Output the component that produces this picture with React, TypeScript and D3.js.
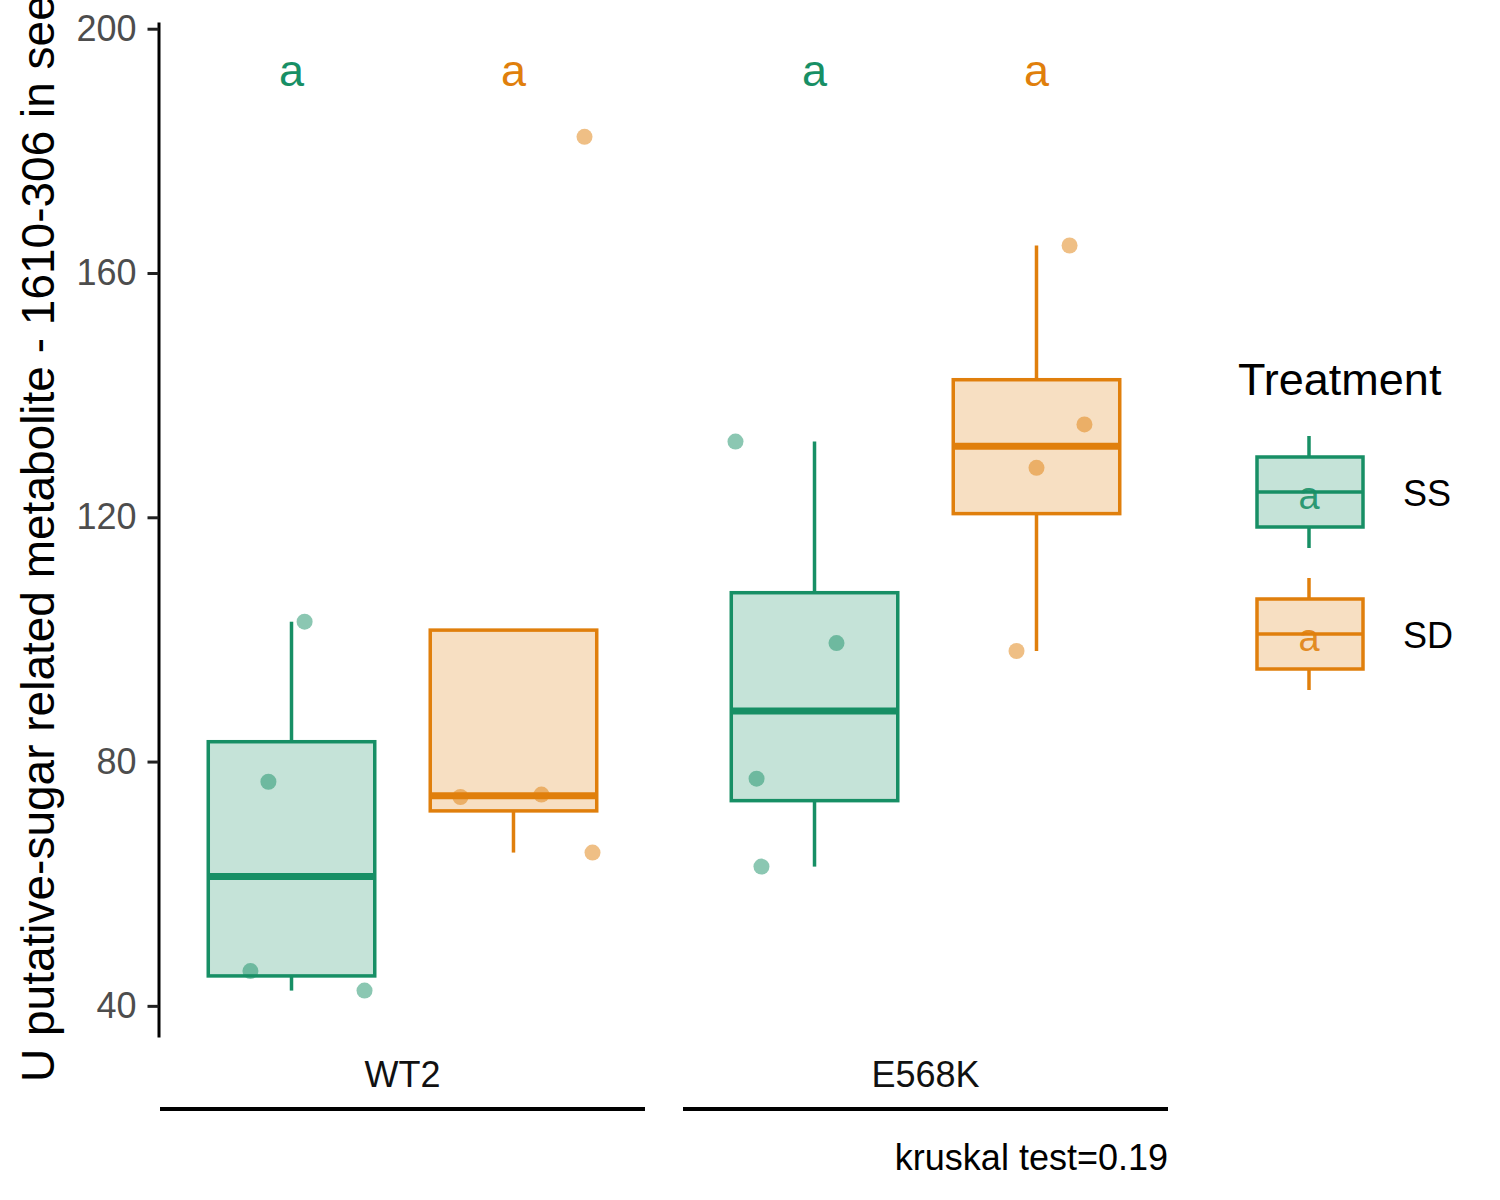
import * as d3 from "d3";
import { useEffect, useRef } from "react";

// values
const genotypes = ["WT2", "E568K"];
const treatments = ["SS", "SD"];
const colors = ["#178F65", "#E07F0C"];

const wt2SS = [42.5, 45.7, 76.7, 102.9];
const wt2SD = [65.1, 74.2, 74.6, 182.3];
const e568kSS = [62.8, 77.2, 99.4, 132.4];
const e568kSD = [98.1, 128.1, 135.2, 164.5];

// horizontal jitter, in units of the dodge step
const wt2SSJitter = [0.329, -0.185, -0.104, 0.059];
const wt2SDJitter = [0.356, -0.239, 0.126, 0.32];
const e568kSSJitter = [-0.239, -0.261, 0.099, -0.356];
const e568kSDJitter = [-0.09, 0.0, 0.216, 0.149];

const letters = ["a", "a", "a", "a"];
const letterLevel = 190.7;
const yTicks = [40, 80, 120, 160, 200];
const pValueText = "kruskal test=0.19";
const yTitle = "U putative-sugar related metabolite - 1610-306 in seeds";

const groups = [
  { genotype: "WT2", treatment: "SS", values: wt2SS, jitter: wt2SSJitter },
  { genotype: "WT2", treatment: "SD", values: wt2SD, jitter: wt2SDJitter },
  { genotype: "E568K", treatment: "SS", values: e568kSS, jitter: e568kSSJitter },
  { genotype: "E568K", treatment: "SD", values: e568kSD, jitter: e568kSDJitter },
];

const FONT = "'Liberation Sans', Arial, Helvetica, sans-serif";

export default function App() {
  const ref = useRef<SVGSVGElement | null>(null);

  useEffect(() => {
    if (!ref.current) return;
    const svg = d3.select(ref.current);
    svg.selectAll("*").remove();

    const y = d3.scaleLinear().domain([34.9, 201.1]).range([1037, 22]);
    const x = d3
      .scaleBand()
      .domain(genotypes)
      .range([160, 1168])
      .paddingInner(0.0727);
    const xInner = d3
      .scaleBand()
      .domain(treatments)
      .range([0, x.bandwidth()])
      .paddingInner(0.25)
      .paddingOuter(0.2174);
    const color = d3.scaleOrdinal<string>().domain(treatments).range(colors);
    const step = xInner.step();

    const g = svg.append("g");

    // boxes
    groups.forEach((d) => {
      const sorted = [...d.values].sort(d3.ascending);
      const q1 = d3.quantile(sorted, 0.25)!;
      const med = d3.quantile(sorted, 0.5)!;
      const q3 = d3.quantile(sorted, 0.75)!;
      const iqr = q3 - q1;
      const inside = sorted.filter((v) => v >= q1 - 1.5 * iqr && v <= q3 + 1.5 * iqr);
      const lo = Math.min(q1, d3.min(inside)!);
      const hi = Math.max(q3, d3.max(inside)!);
      const x0 = x(d.genotype)! + xInner(d.treatment)!;
      const bw = xInner.bandwidth();
      const cx = x0 + bw / 2;
      const c = color(d.treatment);
      const box = g.append("g");

      box.append("line").attr("x1", cx).attr("x2", cx).attr("y1", y(q3)).attr("y2", y(hi))
        .attr("stroke", c).attr("stroke-width", 3.5);
      box.append("line").attr("x1", cx).attr("x2", cx).attr("y1", y(q1)).attr("y2", y(lo))
        .attr("stroke", c).attr("stroke-width", 3.5);
      box.append("rect")
        .attr("x", x0).attr("y", y(q3)).attr("width", bw).attr("height", y(q1) - y(q3))
        .attr("fill", c).attr("fill-opacity", 0.25)
        .attr("stroke", c).attr("stroke-width", 3.5);
      box.append("line").attr("x1", x0).attr("x2", x0 + bw).attr("y1", y(med)).attr("y2", y(med))
        .attr("stroke", c).attr("stroke-width", 7);

      // jittered points
      box.selectAll("circle")
        .data(d.values.map((v, i) => ({ v, j: d.jitter[i] })))
        .enter()
        .append("circle")
        .attr("cx", (p) => cx + p.j * step)
        .attr("cy", (p) => y(p.v))
        .attr("r", 8)
        .attr("fill", c)
        .attr("fill-opacity", 0.5);
    });

    // letters
    g.selectAll("text.letter")
      .data(groups)
      .enter()
      .append("text")
      .attr("class", "letter")
      .attr("x", (d) => x(d.genotype)! + xInner(d.treatment)! + xInner.bandwidth() / 2)
      .attr("y", y(letterLevel))
      .attr("text-anchor", "middle")
      .attr("font-family", FONT)
      .attr("font-size", 45)
      .attr("fill", (d) => color(d.treatment))
      .text((_, i) => letters[i]);

    // y axis
    const yAxis = svg
      .append("g")
      .attr("transform", "translate(158.5,0)")
      .call(d3.axisLeft(y).tickValues(yTicks).tickSize(11).tickSizeOuter(0).tickPadding(11));
    yAxis.select(".domain").attr("stroke", "black").attr("stroke-width", 3);
    yAxis.selectAll(".tick line").attr("stroke", "#222").attr("stroke-width", 3);
    yAxis.selectAll(".tick text")
      .attr("font-family", FONT)
      .attr("font-size", 36)
      .attr("fill", "#4D4D4D");

    // x labels with underlines
    const xg = svg.append("g");
    genotypes.forEach((gt) => {
      const x0 = x(gt)!;
      xg.append("text")
        .attr("x", x0 + x.bandwidth() / 2)
        .attr("y", 1087)
        .attr("text-anchor", "middle")
        .attr("font-family", FONT)
        .attr("font-size", 36)
        .attr("fill", "#111")
        .text(gt);
      xg.append("line")
        .attr("x1", x0).attr("x2", x0 + x.bandwidth())
        .attr("y1", 1109).attr("y2", 1109)
        .attr("stroke", "black").attr("stroke-width", 4);
    });

    svg.append("text")
      .attr("x", 1168)
      .attr("y", 1170)
      .attr("text-anchor", "end")
      .attr("font-family", FONT)
      .attr("font-size", 36)
      .attr("fill", "black")
      .text(pValueText);

    // y title
    svg.append("text")
      .attr("transform", "translate(54,1082) rotate(-90)")
      .attr("text-anchor", "start")
      .attr("font-family", FONT)
      .attr("font-size", 46)
      .attr("fill", "black")
      .text(yTitle);

    // legend
    const lg = svg.append("g");
    lg.append("text")
      .attr("x", 1238).attr("y", 395)
      .attr("font-family", FONT).attr("font-size", 45).attr("fill", "black")
      .text("Treatment");
    treatments.forEach((t, i) => {
      const top = 457 + i * 142;
      const c = color(t);
      const kg = lg.append("g");
      kg.append("line").attr("x1", 1309).attr("x2", 1309).attr("y1", top - 21).attr("y2", top + 91)
        .attr("stroke", c).attr("stroke-width", 3.5);
      kg.append("rect").attr("x", 1257).attr("y", top).attr("width", 106).attr("height", 70)
        .attr("fill", "white");
      kg.append("rect").attr("x", 1257).attr("y", top).attr("width", 106).attr("height", 70)
        .attr("fill", c).attr("fill-opacity", 0.25)
        .attr("stroke", c).attr("stroke-width", 3.5);
      kg.append("line").attr("x1", 1257).attr("x2", 1363).attr("y1", top + 35).attr("y2", top + 35)
        .attr("stroke", c).attr("stroke-width", 3.5);
      kg.append("text").attr("x", 1309).attr("y", top + 52)
        .attr("text-anchor", "middle")
        .attr("font-family", FONT).attr("font-size", 38)
        .attr("fill", c).attr("fill-opacity", 0.9)
        .text(letters[i]);
      kg.append("text").attr("x", 1403).attr("y", top + 49)
        .attr("font-family", FONT).attr("font-size", 36).attr("fill", "black")
        .text(t);
    });
  }, []);

  return (
    <div>
      <svg
        ref={ref}
        width={1500}
        height={1200}
        style={{ position: "absolute", left: 0, top: 0, background: "white" }}
      ></svg>
    </div>
  );
}
